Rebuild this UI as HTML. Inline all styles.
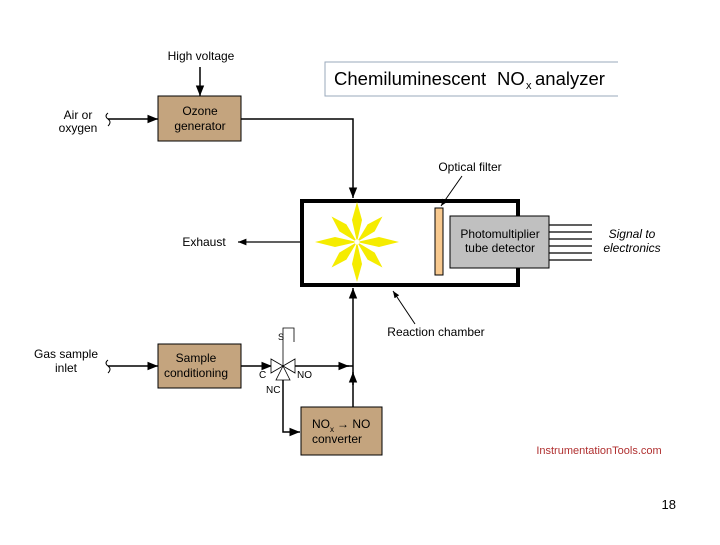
<!DOCTYPE html>
<html><head><style>
body{margin:0;background:#fff;}
svg text{font-family:"Liberation Sans",sans-serif;}
</style></head><body>
<svg width="720" height="540" viewBox="0 0 720 540" xmlns="http://www.w3.org/2000/svg">
<defs>
<marker id="a" viewBox="0 0 10 10" refX="10" refY="5" markerWidth="7" markerHeight="7" orient="auto"><path d="M0,1 L10,5 L0,9 z" fill="#000"/></marker>
</defs>
<rect width="720" height="540" fill="#fff"/>
<path d="M618,62 H325 V96 H618" fill="none" stroke="#9aa8bb" stroke-width="1"/>
<text x="334" y="85" font-size="18.5">Chemiluminescent</text>
<text x="497" y="85" font-size="18.5">NO</text>
<text x="526" y="89" font-size="11">x</text>
<text x="535" y="85" font-size="18.5">analyzer</text>
<text x="201" y="60" font-size="12" text-anchor="middle">High voltage</text>
<line x1="200" y1="67" x2="200" y2="96" stroke="#000" stroke-width="1.5" marker-end="url(#a)"/>
<rect x="158" y="96" width="83" height="45" fill="#c4a47e" stroke="#000"/>
<text x="200" y="115" font-size="12" text-anchor="middle">Ozone</text>
<text x="200" y="130" font-size="12" text-anchor="middle">generator</text>
<text x="78" y="119" font-size="12" text-anchor="middle">Air or</text>
<text x="78" y="132" font-size="12" text-anchor="middle">oxygen</text>
<path d="M108,113 q-4,3 0,6 q4,3 0,7" fill="none" stroke="#000"/>
<line x1="108" y1="119" x2="158" y2="119" stroke="#000" stroke-width="1.5" marker-end="url(#a)"/>
<polyline points="241,119 353,119 353,198" fill="none" stroke="#000" stroke-width="1.5" marker-end="url(#a)"/>
<rect x="302" y="201" width="216" height="84" fill="#fff" stroke="#000" stroke-width="4"/>
<g transform="translate(357,242)" fill="#f5ec00">
<g id="r">
<polygon points="0,-40 5,-22 0,0 -5,-22"/>
<polygon points="0,40 5,22 0,0 -5,22"/>
<polygon points="-42,0 -22,5 0,0 -22,-5"/>
<polygon points="42,0 22,5 0,0 22,-5"/>
</g>
<g transform="rotate(45)">
<polygon points="0,-36 5,-20 0,0 -5,-20"/>
<polygon points="0,36 5,20 0,0 -5,20"/>
<polygon points="-36,0 -20,5 0,0 -20,-5"/>
<polygon points="36,0 20,5 0,0 20,-5"/>
</g>
<circle r="2.5" fill="#fff"/>
</g>
<rect x="435" y="208" width="8" height="67" fill="#f8c98f" stroke="#000"/>
<rect x="450" y="216" width="99" height="52" fill="#c0c0c0" stroke="#000"/>
<text x="500" y="238" font-size="12" text-anchor="middle">Photomultiplier</text>
<text x="500" y="252" font-size="12" text-anchor="middle">tube detector</text>
<g stroke="#000" stroke-width="1.2">
<line x1="549" y1="225" x2="592" y2="225"/><line x1="549" y1="232" x2="592" y2="232"/>
<line x1="549" y1="239" x2="592" y2="239"/><line x1="549" y1="246" x2="592" y2="246"/>
<line x1="549" y1="253" x2="592" y2="253"/><line x1="549" y1="260" x2="592" y2="260"/>
</g>
<text x="632" y="238" font-size="12" font-style="italic" text-anchor="middle">Signal to</text>
<text x="632" y="252" font-size="12" font-style="italic" text-anchor="middle">electronics</text>
<text x="470" y="171" font-size="12" text-anchor="middle">Optical filter</text>
<line x1="462" y1="176" x2="441" y2="206" stroke="#000" marker-end="url(#a)"/>
<text x="204" y="246" font-size="12" text-anchor="middle">Exhaust</text>
<line x1="300" y1="242" x2="238" y2="242" stroke="#000" stroke-width="1.2" marker-end="url(#a)"/>
<text x="436" y="336" font-size="12" text-anchor="middle">Reaction chamber</text>
<line x1="415" y1="324" x2="393" y2="291" stroke="#000" marker-end="url(#a)"/>
<text x="66" y="358" font-size="12" text-anchor="middle">Gas sample</text>
<text x="66" y="372" font-size="12" text-anchor="middle">inlet</text>
<path d="M108,360 q-4,3 0,6 q4,3 0,7" fill="none" stroke="#000"/>
<line x1="108" y1="366" x2="158" y2="366" stroke="#000" stroke-width="1.5" marker-end="url(#a)"/>
<rect x="158" y="344" width="83" height="44" fill="#c4a47e" stroke="#000"/>
<text x="196" y="362" font-size="12" text-anchor="middle">Sample</text>
<text x="196" y="377" font-size="12" text-anchor="middle">conditioning</text>
<line x1="241" y1="366" x2="272" y2="366" stroke="#000" stroke-width="1.5" marker-end="url(#a)"/>
<g stroke="#000" stroke-width="0.8" fill="#fff">
<polygon points="283,366 271,359 271,373"/>
<polygon points="283,366 295,359 295,373"/>
<polygon points="283,366 276,380 290,380"/>
</g>
<polyline points="283,366 283,328 294,328 294,342" fill="none" stroke="#000" stroke-width="0.8"/>
<text x="278" y="340" font-size="9">S</text>
<text x="259" y="378" font-size="10">C</text>
<text x="297" y="378" font-size="10">NO</text>
<text x="266" y="393" font-size="10">NC</text>
<line x1="295" y1="366" x2="353" y2="366" stroke="#000" stroke-width="1.5"/>
<line x1="338" y1="366" x2="349" y2="366" stroke="#000" stroke-width="1.5" marker-end="url(#a)"/>
<line x1="353" y1="407" x2="353" y2="288" stroke="#000" stroke-width="1.5" marker-end="url(#a)"/>
<line x1="353" y1="385" x2="353" y2="372" stroke="#000" stroke-width="1.5" marker-end="url(#a)"/>
<polyline points="283,380 283,432 300,432" fill="none" stroke="#000" stroke-width="1.5" marker-end="url(#a)"/>
<rect x="301" y="407" width="81" height="48" fill="#c4a47e" stroke="#000"/>
<text x="312" y="428" font-size="12">NO</text>
<text x="330" y="432" font-size="8">x</text>
<text x="337" y="428" font-size="12">→ NO</text>
<text x="312" y="443" font-size="12">converter</text>
<text x="599" y="454" font-size="11" fill="#b03030" text-anchor="middle">InstrumentationTools.com</text>
<text x="676" y="509" font-size="13" text-anchor="end">18</text>
</svg>
</body></html>
